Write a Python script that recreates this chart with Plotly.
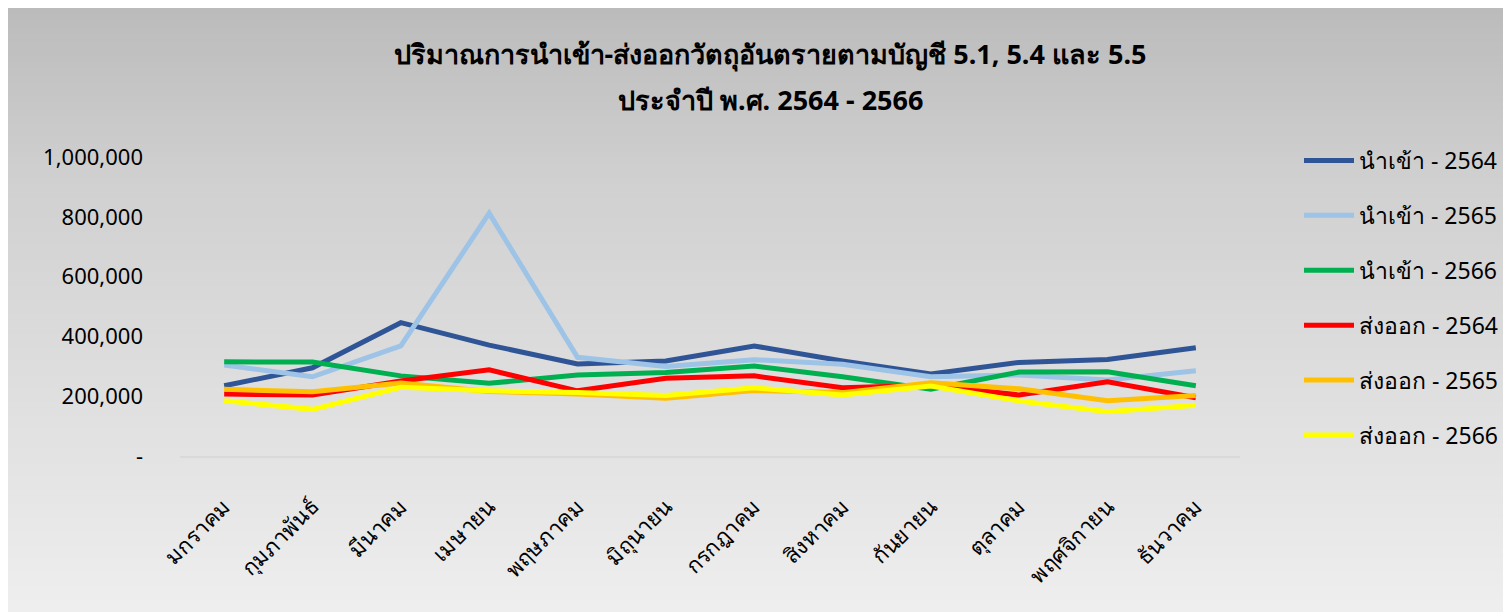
import plotly.graph_objects as go

months = ["มกราคม", "กุมภาพันธ์", "มีนาคม", "เมษายน", "พฤษภาคม", "มิถุนายน",
          "กรกฎาคม", "สิงหาคม", "กันยายน", "ตุลาคม", "พฤศจิกายน", "ธันวาคม"]

import_2564 = [235000, 295000, 446000, 371000, 308000, 318000, 368000, 318000, 274000, 313000, 323000, 362000]
import_2565 = [304000, 265000, 368000, 812000, 330000, 299000, 322000, 307000, 265000, 271000, 254000, 285000]
import_2566 = [315000, 314000, 268000, 243000, 271000, 279000, 301000, 265000, 223000, 281000, 282000, 235000]
export_2564 = [207000, 204000, 251000, 288000, 218000, 260000, 268000, 228000, 237000, 204000, 248000, 195000]
export_2565 = [223000, 215000, 244000, 216000, 207000, 193000, 219000, 212000, 245000, 225000, 185000, 202000]
export_2566 = [185000, 156000, 230000, 218000, 212000, 202000, 228000, 204000, 234000, 184000, 148000, 170000]

series_names = ["นำเข้า - 2564", "นำเข้า - 2565", "นำเข้า - 2566",
                "ส่งออก - 2564", "ส่งออก - 2565", "ส่งออก - 2566"]
series_values = [import_2564, import_2565, import_2566, export_2564, export_2565, export_2566]
series_colors = ["#2F5597", "#9DC3E6", "#00B050", "#FF0000", "#FFC000", "#FFFF00"]

y_tick_vals = [0, 200000, 400000, 600000, 800000, 1000000]
y_tick_text = ["-", "200,000", "400,000", "600,000", "800,000", "1,000,000"]

title_line1 = "ปริมาณการนำเข้า-ส่งออกวัตถุอันตรายตามบัญชี 5.1, 5.4 และ 5.5"
title_line2 = "ประจำปี พ.ศ. 2564 - 2566"

FONT = "Tahoma, 'Noto Sans', 'DejaVu Sans', sans-serif"

W, H = 1511, 612
PL, PR, PT, PB = 172, 1232, 149, 448

fig = go.Figure()
for i, (name, vals, col) in enumerate(zip(series_names, series_values, series_colors)):
    fig.add_trace(go.Scatter(
        x=months, y=vals, name=name, mode="lines",
        line=dict(color=col, width=5),
        legendgroup=f"g{i}",
    ))

# background gradient (styling only)
stops = [(0, 187), (172, 208), (432, 226), (612, 239)]
def shade(py):
    for (a, ca), (b, cb) in zip(stops[:-1], stops[1:]):
        if a <= py <= b:
            t = (py - a) / (b - a)
            return round(ca + (cb - ca) * t)
    return stops[-1][1]

shapes = []
nb = 90
for k in range(nb):
    y0 = H * k / nb
    y1 = H * (k + 1) / nb
    c = shade((y0 + y1) / 2)
    shapes.append(dict(
        type="rect", xref="paper", yref="paper", layer="below",
        x0=(0 - 2 - PL) / (PR - PL), x1=(W + 2 - PL) / (PR - PL),
        y0=(PB - y1 - 0.6) / (PB - PT), y1=(PB - y0 + 0.6) / (PB - PT),
        fillcolor=f"rgb({c},{c},{c})", line=dict(width=0),
    ))

fig.update_layout(
    width=W, height=H,
    margin=dict(l=PL, r=W - PR, t=PT, b=H - PB),
    paper_bgcolor="rgb(239,239,239)",
    plot_bgcolor="rgba(0,0,0,0)",
    font=dict(family=FONT, color="black"),
    shapes=shapes,
    showlegend=True,
    legend=dict(
        xref="container", yref="container",
        x=1291 / W, y=1 - 131 / H, xanchor="left", yanchor="top",
        font=dict(size=23, color="black", family=FONT),
        bgcolor="rgba(0,0,0,0)",
        traceorder="grouped", tracegroupgap=22,
        itemwidth=50, maxheight=560,
    ),
    title=dict(
        text="<b>" + title_line1 + "</b>",
        xref="container", yref="container",
        x=762 / W, y=1 - 47 / H, xanchor="center", yanchor="middle",
        font=dict(size=27, color="black", family=FONT),
    ),
    annotations=[dict(
        text="<b>" + title_line2 + "</b>",
        xref="paper", yref="paper",
        x=(762 - PL) / (PR - PL), y=(PB - 92) / (PB - PT),
        xanchor="center", yanchor="middle", showarrow=False,
        font=dict(size=27, color="black", family=FONT),
    )],
)

fig.update_xaxes(
    type="category", range=[-0.5, 11.5],
    showgrid=False, zeroline=False,
    showline=True, linecolor="#d9d9d9", linewidth=2,
    ticks="", tickangle=-45,
    tickfont=dict(size=22, color="black", family=FONT),
    ticklabelstandoff=27,
)
fig.update_yaxes(
    range=[0, 1000000],
    showgrid=False, zeroline=False, showline=False,
    tickvals=y_tick_vals, ticktext=y_tick_text,
    tickfont=dict(size=22, color="black", family=FONT),
    ticks="", ticklabelstandoff=36,
)

fig.write_html("out.html")
